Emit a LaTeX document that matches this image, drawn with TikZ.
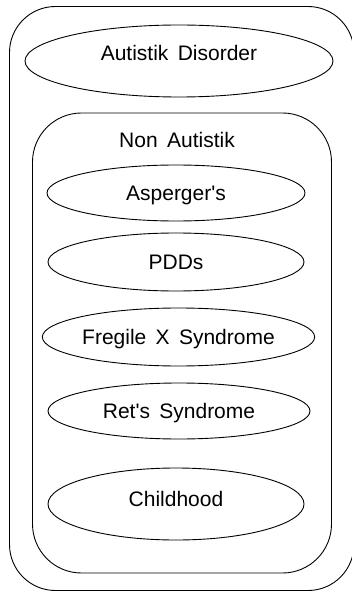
\documentclass[tikz,border=0pt]{standalone}
\usepackage{fontspec}
\setmainfont{Liberation Sans}[WordSpace={1.6}]
\usetikzlibrary{shapes.geometric}
\begin{document}
\begin{tikzpicture}[x=1pt,y=-1pt,
  every node/.style={font=\fontsize{21}{25}\selectfont, text height=15pt, text depth=0pt, inner sep=0pt},
  box/.style={draw, line width=0.9pt, rounded corners=#1},
  ell/.style={draw, line width=0.9pt, ellipse}]
\useasboundingbox (0,0) rectangle (351,593);
\node[box=46pt, minimum width=344.5pt, minimum height=584pt] (outer) at (181.75,298.5) {};
\node[box=49pt, minimum width=299pt, minimum height=460pt] (inner) at (182,343) {};
\node (nonaut) at (177,140) {Non Autistik};
\node[ell, minimum width=308pt, minimum height=72pt] (autdis) at (179,61) {\raisebox{7.5pt}{Autistik Disorder}};
\node[ell, minimum width=258pt, minimum height=56pt] (asp) at (176,193) {Asperger\textquotesingle s};
\node[ell, minimum width=256pt, minimum height=58pt] (pdd) at (176,262) {PDDs};
\node[ell, minimum width=250pt, minimum height=58pt] (fxs) at (178.5,337) {Fregile X Syndrome};
\node[ell, minimum width=262pt, minimum height=56pt] (ret) at (179,411) {Ret\textquotesingle s Syndrome};
\node[ell, minimum width=256pt, minimum height=72pt] (child) at (176,504) {\raisebox{5pt}{Childhood}};
\end{tikzpicture}
\end{document}
